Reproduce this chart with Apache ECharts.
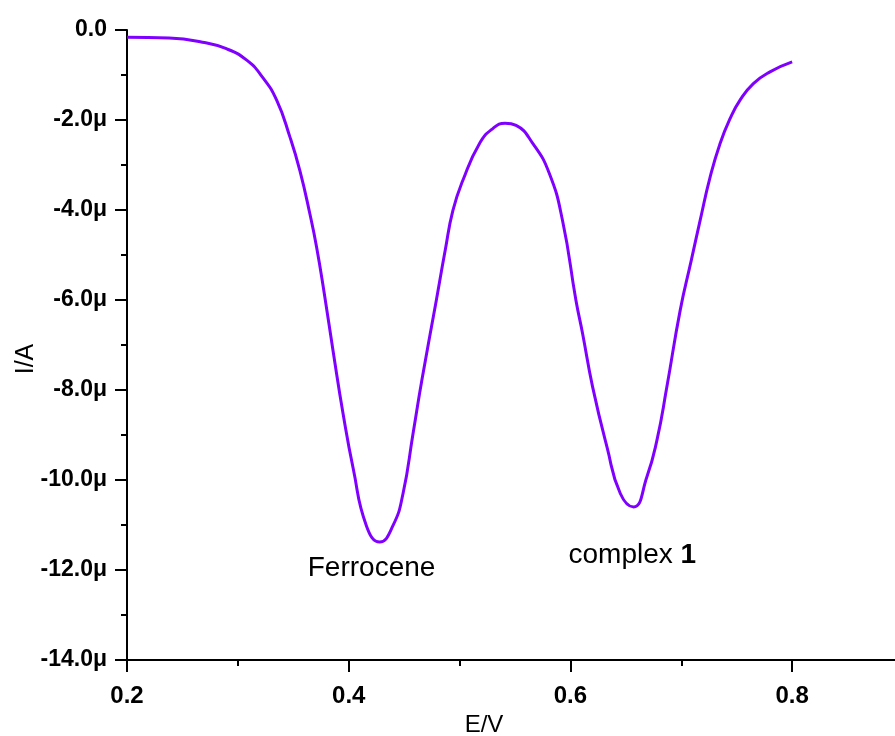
<!DOCTYPE html>
<html>
<head>
<meta charset="utf-8">
<script src="https://cdn.jsdelivr.net/npm/echarts@6/dist/echarts.min.js"></script>
<style>
html,body{margin:0;padding:0;background:#fff;overflow:hidden;}
#chart{width:895px;height:736px;}
</style>
</head>
<body>
<div id="chart"></div>
<script>
// Potential (V)
const potential = [0.200, 0.238, 0.268, 0.289, 0.308, 0.322, 0.335, 0.347, 0.356, 0.365,
  0.371, 0.378, 0.386, 0.395, 0.404, 0.416, 0.428, 0.440, 0.449, 0.458,
  0.466, 0.479, 0.487, 0.494, 0.503, 0.518, 0.530, 0.541, 0.551, 0.566,
  0.581, 0.593, 0.605, 0.611, 0.620, 0.633, 0.645, 0.657, 0.669, 0.678,
  0.687, 0.699, 0.709, 0.717, 0.726, 0.735, 0.744, 0.753, 0.765, 0.780, 0.800];
// Current (µA)
const current = [-0.16, -0.18, -0.27, -0.41, -0.67, -1.04, -1.56, -2.38, -3.13, -4.09,
  -4.82, -5.86, -7.15, -8.54, -9.74, -11.02, -11.38, -11.01, -10.30, -8.97,
  -7.78, -6.01, -4.90, -4.01, -3.34, -2.52, -2.19, -2.07, -2.12, -2.52,
  -3.19, -4.25, -6.01, -6.75, -7.93, -9.27, -10.30, -10.60, -9.93, -9.12,
  -7.93, -6.23, -5.12, -4.23, -3.27, -2.52, -1.97, -1.56, -1.19, -0.93, -0.71];
const peakLabels = [
  {name: 'Ferrocene', x: 0.4206, y: -11.96},
  {name: 'complex 1', x: 0.6558, y: -11.68}
];
const xTicks = [0.2, 0.4, 0.6, 0.8];

const chart = echarts.init(document.getElementById('chart'), null, {renderer: 'canvas'});
const font = 'Arial, "Liberation Sans", sans-serif';
chart.setOption({
  animation: false,
  backgroundColor: '#fff',
  grid: {left: 127, top: 30, height: 630, width: 776, containLabel: false, outerBoundsMode: 'none'},
  xAxis: {
    type: 'value', min: 0.2, max: 0.9, interval: 0.2,
    name: 'E/V', nameLocation: 'middle', nameGap: 51,
    nameTextStyle: {fontFamily: font, fontSize: 24, color: '#000', padding: [0, 62, 0, 0]},
    axisLine: {show: true, onZero: false, lineStyle: {color: '#000', width: 2}},
    axisTick: {show: true, length: 12, lineStyle: {color: '#000', width: 2}},
    minorTick: {show: true, splitNumber: 2, length: 6, lineStyle: {color: '#000', width: 2}},
    splitLine: {show: false},
    axisLabel: {
      margin: 24, fontFamily: font, fontSize: 24, fontWeight: 'bold', color: '#000',
      formatter: v => xTicks.some(t => Math.abs(t - v) < 1e-9) ? v.toFixed(1) : ''
    }
  },
  yAxis: {
    type: 'value', min: -14, max: 0, interval: 2,
    name: 'I/A', nameLocation: 'middle', nameGap: 88, nameMoveOverlap: false,
    nameTextStyle: {fontFamily: font, fontSize: 25, color: '#000', padding: [0, 28, 0, 0]},
    axisLine: {show: true, onZero: false, lineStyle: {color: '#000', width: 2}},
    axisTick: {show: true, length: 12, lineStyle: {color: '#000', width: 2}},
    minorTick: {show: true, splitNumber: 2, length: 6, lineStyle: {color: '#000', width: 2}},
    splitLine: {show: false},
    axisLabel: {
      margin: 20, fontFamily: font, fontSize: 23, fontWeight: 'bold', color: '#000',
      formatter: v => v === 0 ? '0.0' : v.toFixed(1) + 'μ'
    }
  },
  series: [{
    type: 'line',
    data: potential.map((x, i) => [x, current[i]]),
    smooth: 0.5,
    symbol: 'none',
    lineStyle: {color: '#8000ff', width: 3},
    markPoint: {
      symbol: 'circle', symbolSize: 0,
      label: {
        show: true, position: 'inside', fontFamily: font, fontSize: 28, color: '#000',
        formatter: p => p.name === 'complex 1' ? 'complex {b|1}' : p.name,
        rich: {b: {fontFamily: font, fontSize: 28, fontWeight: 'bold', color: '#000'}}
      },
      data: peakLabels.map(p => ({name: p.name, coord: [p.x, p.y]}))
    }
  }]
});
</script>
</body>
</html>
